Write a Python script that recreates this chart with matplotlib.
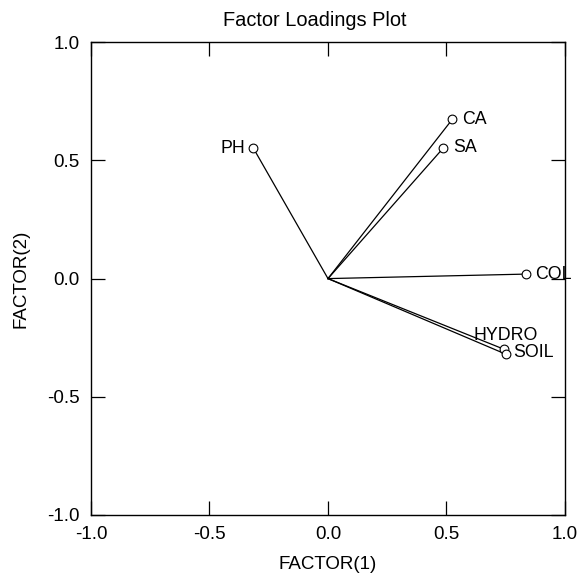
import matplotlib
matplotlib.use('Agg')
import matplotlib.pyplot as plt

plt.rcParams['font.family'] = ['Liberation Sans', 'DejaVu Sans']

# loadings
variables = ['CA', 'SA', 'PH', 'COL', 'HYDRO', 'SOIL']
factor1 = [0.524, 0.487, -0.315, 0.834, 0.743, 0.751]
factor2 = [0.673, 0.553, 0.552, 0.019, -0.299, -0.320]
# label offsets in points, and alignment
offsets = [(7, 0), (7, 0), (-6, 0), (7, 0), (1, 10), (5, 1)]
aligns = ['left', 'left', 'right', 'left', 'center', 'left']

fig = plt.figure(figsize=(5.87, 5.78), dpi=100)
ax = fig.add_axes([0.155, 0.109, 0.8075, 0.818])

for x, y in zip(factor1, factor2):
    ax.plot([0, x], [0, y], color='black', lw=0.9)
ax.plot(factor1, factor2, 'o', mfc='white', mec='black', ms=6.3, mew=0.8, zorder=3)

for name, x, y, off, ha in zip(variables, factor1, factor2, offsets, aligns):
    ax.annotate(name, (x, y), xytext=off, textcoords='offset points',
                ha=ha, va='center', fontsize=12.8)

ax.set_xlim(-1, 1)
ax.set_ylim(-1, 1)
ticks = [-1.0, -0.5, 0.0, 0.5, 1.0]
ax.set_xticks(ticks)
ax.set_yticks(ticks)
ax.set_xticklabels(['%.1f' % t for t in ticks])
ax.set_yticklabels(['%.1f' % t for t in ticks])
ax.tick_params(direction='in', length=10, width=0.9, top=True, right=True,
               labelsize=13.5, pad=8)
ax.tick_params(axis='x', pad=8)
for s in ax.spines.values():
    s.set_linewidth(1.0)

ax.set_title('Factor Loadings Plot', fontsize=14.4, pad=11.5, x=0.4726)
ax.set_xlabel('FACTOR(1)', fontsize=13.5, labelpad=9)
ax.set_ylabel('FACTOR(2)', fontsize=13.5, labelpad=13)

plt.savefig('out.png', dpi=100)
